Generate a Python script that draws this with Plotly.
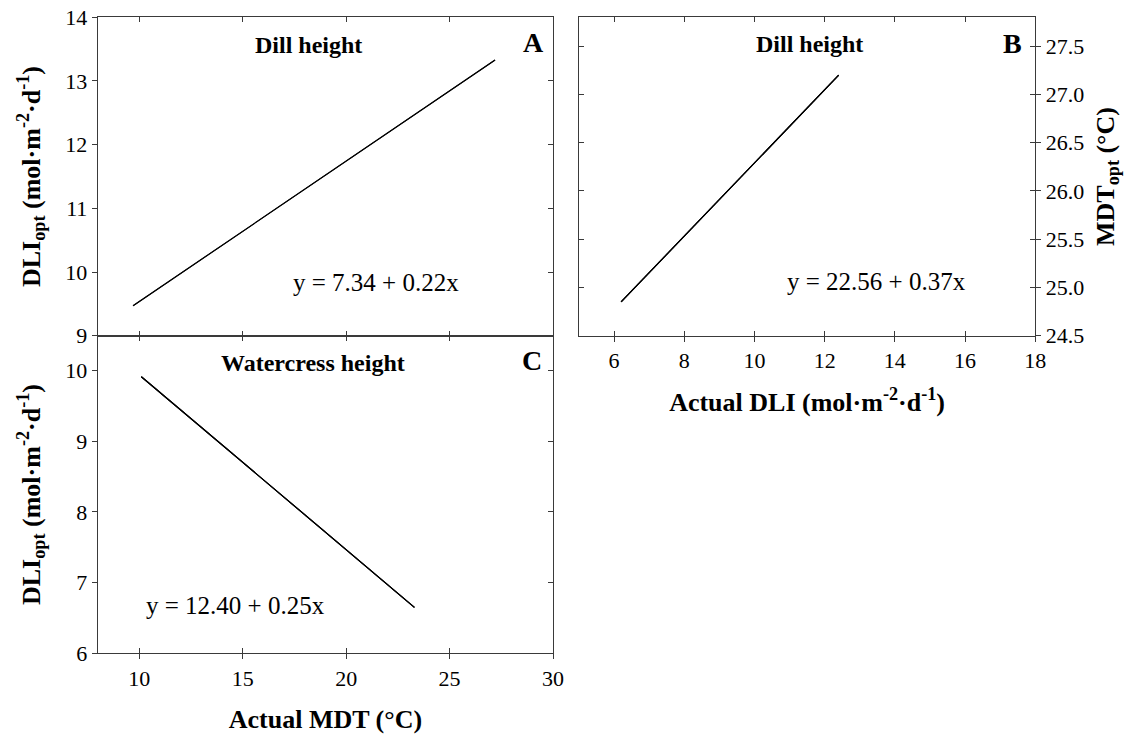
import plotly.graph_objects as go

# ---- data ----
a_x = [9.7, 27.2]
a_y = [9.47, 13.33]
b_x = [6.2, 12.4]
b_y = [24.85, 27.2]
c_x = [10.1, 23.3]
c_y = [9.91, 6.65]

mdt_ticks = [10, 15, 20, 25, 30]
dli_a_ticks = [9, 10, 11, 12, 13, 14]
dli_c_ticks = [6, 7, 8, 9, 10]
dli_b_ticks = [6, 8, 10, 12, 14, 16, 18]
mdt_b_ticks = [24.5, 25.0, 25.5, 26.0, 26.5, 27.0, 27.5]

panel_titles = ["Dill height", "Dill height", "Watercress height"]
panel_letters = ["A", "B", "C"]
equations = ["y = 7.34 + 0.22x", "y = 22.56 + 0.37x", "y = 12.40 + 0.25x"]

FONT = "Liberation Serif"
LC = "#3a3a3a"
W, H = 1141, 734

def px_x(p):
    return p / W

def px_y(p):
    return 1 - p / H

dom_x_left = [px_x(97.9), px_x(553)]
dom_x_right = [px_x(579), px_x(1035.2)]
dom_y_top = [px_y(335.7), px_y(17.3)]
dom_y_bot = [px_y(653.3), px_y(335.7)]

fig = go.Figure()
line = dict(color="black", width=1.1)
fig.add_trace(go.Scatter(x=a_x, y=a_y, mode="lines", line=line, xaxis="x", yaxis="y",
                         showlegend=False))
fig.add_trace(go.Scatter(x=b_x, y=b_y, mode="lines", line=line, xaxis="x2", yaxis="y2",
                         showlegend=False))
fig.add_trace(go.Scatter(x=c_x, y=c_y, mode="lines", line=line, xaxis="x3", yaxis="y3",
                         showlegend=False))
# the same lines on the overlaying axes, so those axes (extra tick sides) are drawn
fig.add_trace(go.Scatter(x=a_x, y=a_y, mode="lines", line=line, xaxis="x", yaxis="y4",
                         showlegend=False, hoverinfo="skip"))
fig.add_trace(go.Scatter(x=b_x, y=b_y, mode="lines", line=line, xaxis="x5", yaxis="y2",
                         showlegend=False, hoverinfo="skip"))
fig.add_trace(go.Scatter(x=b_x, y=b_y, mode="lines", line=line, xaxis="x2", yaxis="y5",
                         showlegend=False, hoverinfo="skip"))
fig.add_trace(go.Scatter(x=c_x, y=c_y, mode="lines", line=line, xaxis="x6", yaxis="y3",
                         showlegend=False, hoverinfo="skip"))
fig.add_trace(go.Scatter(x=c_x, y=c_y, mode="lines", line=line, xaxis="x3", yaxis="y6",
                         showlegend=False, hoverinfo="skip"))

base = dict(showline=True, linecolor=LC, linewidth=1.3, tickcolor=LC, tickwidth=1.3, ticklen=5,
            showgrid=False, zeroline=False, automargin=False,
            tickfont=dict(family=FONT, size=22, color="black"))
tfont = dict(family=FONT, size=26, color="black")

dli_title = "<b>DLI<sub>opt</sub> (mol·m<sup>-2</sup>·d<sup>-1</sup>)</b>"

fig.update_layout(
    width=W, height=H, autosize=False,
    margin=dict(l=0, r=0, t=0, b=0, pad=0),
    paper_bgcolor="white", plot_bgcolor="white",
    # Panel A
    xaxis=dict(base, domain=dom_x_left, anchor="y", range=[8, 30], tickvals=mdt_ticks,
               ticks="inside", mirror="ticks", showticklabels=False),
    yaxis=dict(base, domain=dom_y_top, anchor="x", range=[9, 14], tickvals=dli_a_ticks,
               ticks="outside", title=dict(text=dli_title, font=tfont, standoff=17)),
    yaxis4=dict(base, overlaying="y", anchor="x", side="right", range=[9, 14], tickvals=dli_a_ticks,
                ticks="inside", showticklabels=False),
    # Panel B
    xaxis2=dict(base, domain=dom_x_right, anchor="y2", range=[5, 18], tickvals=dli_b_ticks,
                ticks="inside", mirror="ticks", showticklabels=False),
    xaxis5=dict(base, overlaying="x2", anchor="y2", side="bottom", range=[5, 18], tickvals=dli_b_ticks,
                ticks="outside", title=dict(text="<b>Actual DLI (mol·m<sup>-2</sup>·d<sup>-1</sup>)</b>",
                                            font=tfont, standoff=20)),
    yaxis2=dict(base, domain=dom_y_top, anchor="x2", side="right", range=[24.5, 27.8],
                tickvals=mdt_b_ticks, tickformat=".1f", ticks="outside",
                title=dict(text="<b>MDT<sub>opt</sub> (°C)</b>", font=tfont, standoff=12)),
    yaxis5=dict(base, overlaying="y2", anchor="x2", side="left", range=[24.5, 27.8],
                tickvals=mdt_b_ticks, ticks="inside", mirror="ticks", showticklabels=False),
    # Panel C
    xaxis3=dict(base, domain=dom_x_left, anchor="y3", range=[8, 30], tickvals=mdt_ticks,
                ticks="inside", mirror="ticks", showticklabels=False),
    xaxis6=dict(base, overlaying="x3", anchor="y3", side="bottom", range=[8, 30], tickvals=mdt_ticks,
                ticks="outside", title=dict(text="<b>Actual MDT (°C)</b>", font=tfont, standoff=20)),
    yaxis3=dict(base, domain=dom_y_bot, anchor="x3", range=[6, 10.49], tickvals=dli_c_ticks,
                ticks="outside", title=dict(text=dli_title, font=tfont, standoff=17)),
    yaxis6=dict(base, overlaying="y3", anchor="x3", side="right", range=[6, 10.49], tickvals=dli_c_ticks,
                ticks="inside", showticklabels=False),
)

title_pos = [("x", "y", 18.2, 13.57), ("x2", "y2", 11.58, 27.52), ("x3", "y3", 18.4, 10.11)]
letter_pos = [("x", "y", 29.07, 13.61), ("x2", "y2", 17.34, 27.53), ("x3", "y3", 28.97, 10.14)]
eq_pos = [("x", "y", 21.42, 9.83), ("x2", "y2", 13.49, 25.06), ("x3", "y3", 14.67, 6.68)]

for (xr, yr, xv, yv), t in zip(title_pos, panel_titles):
    fig.add_annotation(x=xv, y=yv, xref=xr, yref=yr, text=f"<b>{t}</b>", showarrow=False,
                       font=dict(family=FONT, size=24, color="black"))
for (xr, yr, xv, yv), t in zip(letter_pos, panel_letters):
    fig.add_annotation(x=xv, y=yv, xref=xr, yref=yr, text=f"<b>{t}</b>", showarrow=False,
                       font=dict(family=FONT, size=28, color="black"))
for (xr, yr, xv, yv), t in zip(eq_pos, equations):
    fig.add_annotation(x=xv, y=yv, xref=xr, yref=yr, text=t, showarrow=False,
                       font=dict(family=FONT, size=25, color="black"))

fig.write_html("out.html")
